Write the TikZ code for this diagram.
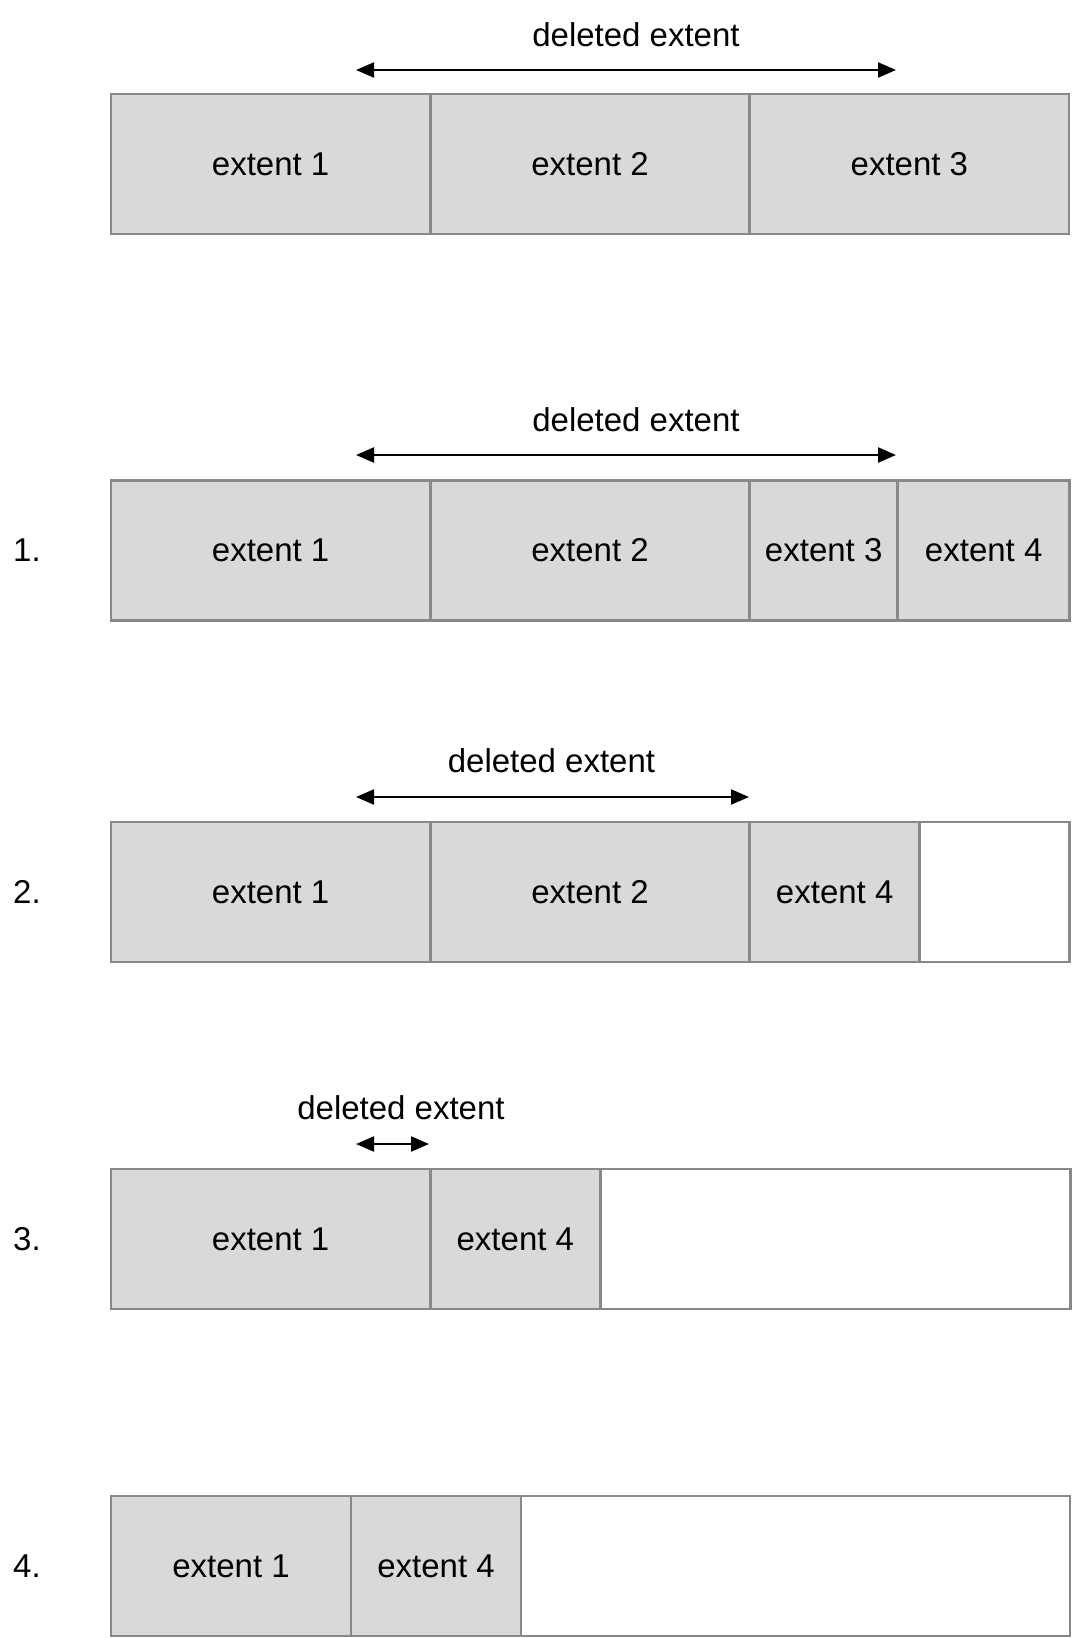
\documentclass[tikz,border=0pt]{standalone}
\usepackage{fontspec}
\setmainfont{Liberation Sans}
\usetikzlibrary{arrows.meta,positioning}
\definecolor{extfill}{HTML}{D9D9D9}
\definecolor{extline}{HTML}{888888}
\tikzset{
  ext/.style={draw=extline,line width=1.25pt,fill=extfill,minimum height=70pt,
    inner sep=0pt,outer sep=0pt,font=\fontsize{16.5}{18}\selectfont},
  free/.style={ext,fill=white},
  del/.style={{Triangle[length=9pt,width=7.5pt]}-{Triangle[length=9pt,width=7.5pt]},line width=1.1pt},
  dlabel/.style={font=\fontsize{16.5}{18}\selectfont},
  stepnum/.style={font=\fontsize{16.5}{18}\selectfont}
}
\begin{document}
\begin{tikzpicture}[x=0.5pt,y=-0.5pt]
\useasboundingbox (0,0) rectangle (1072,1638);

% row 0
\node[ext,minimum width=159.67pt,anchor=north west] (a1) at (111,94) {extent 1};
\node[ext,minimum width=159.67pt,right=0pt of a1] (a2) {extent 2};
\node[ext,minimum width=159.67pt,right=0pt of a2] (a3) {extent 3};
\coordinate (adl) at (356,70);
\coordinate (adr) at (896,70);
\draw[del] (adl) -- (adr);
\node[dlabel] (al) at (636,35) {deleted extent};

% step 1
\node[ext,minimum width=159.67pt,anchor=north west] (b1) at (111,480.5) {extent 1};
\node[ext,minimum width=159.67pt,right=0pt of b1] (b2) {extent 2};
\node[ext,minimum width=74pt,right=0pt of b2] (b3) {extent 3};
\node[ext,minimum width=86pt,right=0pt of b3] (b4) {extent 4};
\node[stepnum] (bn) at (27,550.5) {1.};
\coordinate (bdl) at (356,455);
\coordinate (bdr) at (896,455);
\draw[del] (bdl) -- (bdr);
\node[dlabel] (bl) at (636,420) {deleted extent};

% step 2
\node[ext,minimum width=159.67pt,anchor=north west] (c1) at (111,822) {extent 1};
\node[ext,minimum width=159.67pt,right=0pt of c1] (c2) {extent 2};
\node[ext,minimum width=85pt,right=0pt of c2] (c4) {extent 4};
\node[free,minimum width=75pt,right=0pt of c4] (cf) {};
\node[stepnum] (cn) at (27,892) {2.};
\coordinate (cdl) at (356,797);
\coordinate (cdr) at (749,797);
\draw[del] (cdl) -- (cdr);
\node[dlabel] (cl) at (551.5,761) {deleted extent};

% step 3
\node[ext,minimum width=159.67pt,anchor=north west] (d1) at (111,1169) {extent 1};
\node[ext,minimum width=85pt,right=0pt of d1] (d4) {extent 4};
\node[free,minimum width=235pt,right=0pt of d4] (df) {};
\node[stepnum] (dn) at (27,1239) {3.};
\coordinate (ddl) at (356,1144);
\coordinate (ddr) at (429,1144);
\draw[del] (ddl) -- (ddr);
\node[dlabel] (dl) at (401,1108) {deleted extent};

% step 4
\node[ext,minimum width=120pt,anchor=north west] (e1) at (111,1496) {extent 1};
\node[ext,minimum width=85pt,right=0pt of e1] (e4) {extent 4};
\node[free,minimum width=274.5pt,right=0pt of e4] (ef) {};
\node[stepnum] (en) at (27,1566) {4.};
\end{tikzpicture}
\end{document}
